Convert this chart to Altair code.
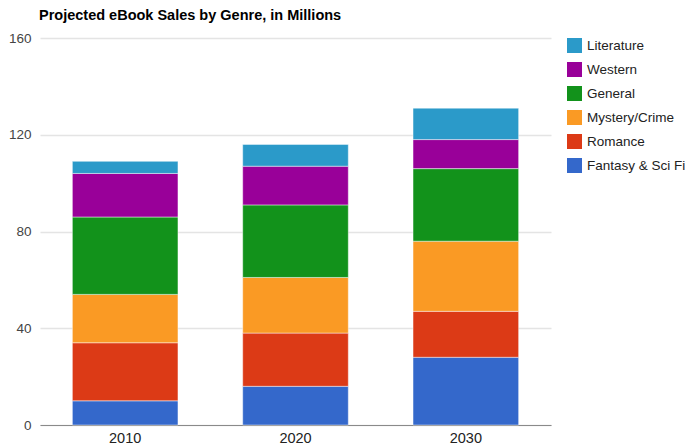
import altair as alt
import pandas as pd

years = ["2010", "2020", "2030"]
genres = ["Fantasy & Sci Fi", "Romance", "Mystery/Crime", "General", "Western", "Literature"]
fantasy = [10, 16, 28]
romance = [24, 22, 19]
mystery = [20, 23, 29]
general = [32, 30, 30]
western = [18, 16, 12]
literature = [5, 9, 13]
colors = ["#3468cb", "#dc3a16", "#fa9a24", "#12921b", "#990099", "#2b9ac9"]

series = [fantasy, romance, mystery, general, western, literature]
rows = []
for gi, (g, vals) in enumerate(zip(genres, series)):
    for y, v in zip(years, vals):
        rows.append({"Year": y, "Genre": g, "Sales": v, "order": gi})
df = pd.DataFrame(rows)

legend_domain = list(reversed(genres))
legend_range = list(reversed(colors))

FONT = "Liberation Sans"

chart = alt.Chart(df).mark_bar(stroke="white", strokeWidth=1, strokeOpacity=0.45).encode(
    x=alt.X("Year:N", title=None,
            scale=alt.Scale(paddingInner=0.38, paddingOuter=0.19),
            axis=alt.Axis(labelAngle=0, ticks=False, labelPadding=6, labelFontSize=14.5,
                          labelColor="#222222", labelFont=FONT, domainColor="#8a8a8a",
                          domainWidth=1.2, grid=False)),
    y=alt.Y("Sales:Q", title=None, stack="zero",
            scale=alt.Scale(domain=[0, 160], nice=False),
            axis=alt.Axis(values=[0, 40, 80, 120, 160], ticks=False, domain=False,
                          labelPadding=9, labelFontSize=13.5, labelColor="#444444",
                          labelFont=FONT, gridColor="#e4e4e4", gridWidth=1.5)),
    color=alt.Color("Genre:N", title=None,
                    scale=alt.Scale(domain=legend_domain, range=legend_range),
                    legend=alt.Legend(orient="none", legendX=527, legendY=0, padding=0,
                                      symbolType="square", symbolSize=225,
                                      symbolStrokeWidth=0, labelOffset=5, rowPadding=9,
                                      labelFontSize=13.5, labelColor="#222222", labelFont=FONT,
                                      labelLimit=200)),
    order=alt.Order("order:Q", sort="ascending"),
).properties(
    width=511,
    height=387,
    padding={"left": 32, "top": 30, "right": 136, "bottom": 22},
    autosize=alt.AutoSizeParams(type="none"),
    title=alt.TitleParams("Projected eBook Sales by Genre, in Millions", anchor="start",
                          frame="group", fontSize=14.5, fontWeight="bold", font=FONT,
                          color="#000000", offset=8, dx=-1),
).configure_view(stroke=None)

chart.save("out.html", embed_options={"renderer": "svg", "actions": False})
